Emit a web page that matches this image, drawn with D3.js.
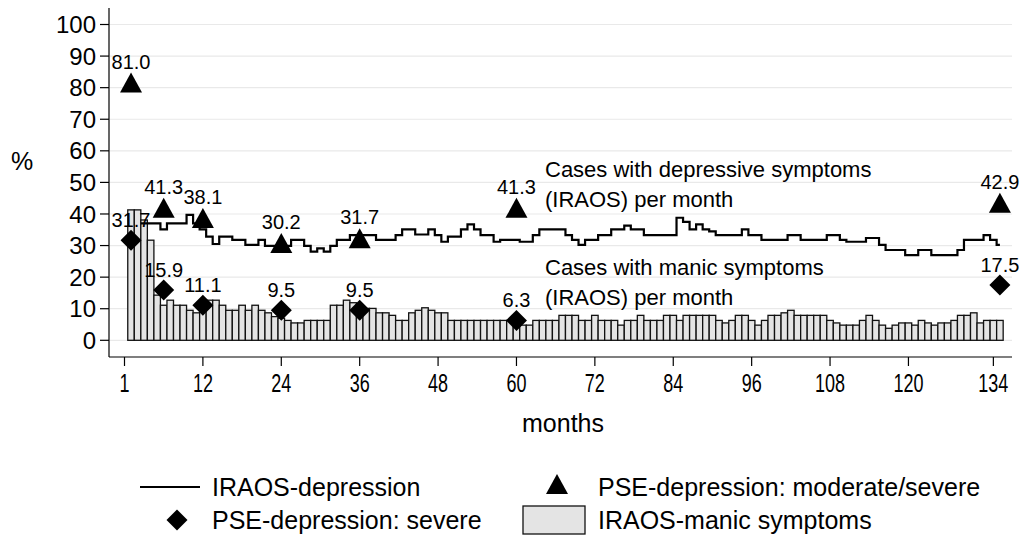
<!DOCTYPE html>
<html><head><meta charset="utf-8">
<script src="https://cdn.jsdelivr.net/npm/d3@7"></script>
<style>
body{margin:0;background:#fff}
svg{display:block}
text{font-family:"Liberation Sans",Arial,Helvetica,sans-serif;fill:#000}
</style>
</head><body>
<svg id="c" width="1022" height="535"></svg>
<script>
// ---------------- data ----------------
const months = d3.range(1, 135);
const manicPct = [
  41.3, 41.3, 38.1, 31.7, 14.3, 11.1, 12.7, 11.1, 11.1, 9.5,
  8.7, 9.5, 12.7, 12.7, 11.1, 9.5, 9.5, 11.1, 9.5, 11.1,
  9.5, 8.7, 7.5, 7.0, 6.3, 5.5, 5.5, 6.3, 6.3, 6.3,
  6.3, 11.1, 11.1, 12.7, 11.9, 11.1, 10.1, 10.1, 8.7, 8.7,
  7.9, 6.3, 6.3, 8.7, 9.5, 10.3, 9.5, 8.7, 8.7, 6.3,
  6.3, 6.3, 6.3, 6.3, 6.3, 6.3, 6.3, 6.3, 6.3, 4.8,
  4.8, 4.8, 6.3, 6.3, 6.3, 6.3, 7.9, 7.9, 7.9, 6.3,
  6.3, 7.9, 6.3, 6.3, 6.3, 4.8, 6.3, 6.3, 7.9, 6.3,
  6.3, 6.3, 7.9, 7.9, 6.3, 7.9, 7.9, 7.9, 7.9, 7.9,
  6.3, 5.5, 6.3, 7.9, 7.9, 6.3, 4.8, 6.3, 7.9, 7.9,
  8.7, 9.5, 7.9, 7.9, 7.9, 7.9, 7.9, 6.3, 5.5, 4.8,
  4.8, 4.8, 6.3, 7.9, 6.3, 4.8, 3.8, 4.8, 5.5, 5.5,
  4.8, 6.3, 5.5, 4.8, 5.5, 5.5, 6.3, 7.9, 7.9, 8.7,
  5.5, 6.3, 6.3, 6.3
];
const depressionPct = [
  null, null, 37.0, 37.0, 37.0, 35.1, 37.0, 37.0, 37.0, 39.7,
  37.0, 35.1, 32.8, 30.5, 32.8, 32.8, 31.8, 31.8, 30.2, 30.2,
  31.8, 29.9, 29.9, 29.9, 29.9, 31.8, 31.8, 29.9, 28.1, 29.1,
  28.1, 29.9, 31.8, 31.8, 33.3, 33.3, 33.3, 33.3, 31.8, 31.8,
  31.8, 33.3, 35.1, 35.1, 33.5, 33.5, 35.1, 33.3, 31.2, 32.8,
  32.8, 35.1, 36.7, 35.1, 33.3, 33.3, 31.2, 31.8, 31.8, 31.8,
  31.2, 31.2, 33.3, 35.1, 35.1, 35.1, 35.1, 33.3, 31.8, 30.2,
  31.8, 31.8, 33.3, 33.3, 35.1, 35.1, 36.3, 35.1, 35.1, 33.3,
  33.3, 33.3, 33.3, 33.3, 38.8, 37.5, 35.1, 36.7, 35.1, 34.5,
  33.3, 33.3, 33.3, 33.3, 35.1, 33.3, 33.3, 31.8, 31.8, 31.8,
  31.8, 33.3, 33.3, 31.8, 31.8, 31.8, 31.8, 33.3, 33.3, 31.8,
  31.2, 31.2, 31.2, 32.4, 32.4, 30.2, 28.6, 28.6, 28.6, 27.0,
  27.0, 28.6, 28.6, 27.0, 27.0, 27.0, 27.0, 28.6, 31.8, 31.8,
  31.8, 33.3, 31.8, 30.2
];
const pseMonths = [1, 6, 12, 24, 36, 60, 134];
const pseModSevere = [81.0, 41.3, 38.1, 30.2, 31.7, 41.3, 42.9];
const pseSevere = [31.7, 15.9, 11.1, 9.5, 9.5, 6.3, 17.5];
const xTickPos = [0, 12, 24, 36, 48, 60, 72, 84, 96, 108, 120, 133];
const xTickLabels = ["1", "12", "24", "36", "48", "60", "72", "84", "96", "108", "120", "134"];
const yTicks = d3.range(0, 101, 10);
const annotations = [
  {text: "Cases with depressive symptoms", at: 54.0},
  {text: "(IRAOS) per month", at: 44.5},
  {text: "Cases with manic symptoms", at: 23.0},
  {text: "(IRAOS) per month", at: 13.5}
];
const legendLabels = ["IRAOS-depression", "PSE-depression: moderate/severe", "PSE-depression: severe", "IRAOS-manic symptoms"];

// ---------------- chart ----------------
const svg = d3.select("#c");
const x = d3.scaleLinear().domain([0, 134]).range([124.5, 999.9]);
const y = d3.scaleLinear().domain([0, 100]).range([340.3, 24.5]);
const bw = x(1) - x(0);
const axisX = 109, axisY = 357, plotRight = 1012;

// gridlines
svg.append("g").selectAll("line").data(yTicks).join("line")
  .attr("x1", axisX + 1).attr("x2", plotRight)
  .attr("y1", d => y(d)).attr("y2", d => y(d))
  .attr("stroke", "#e9e9e9").attr("stroke-width", 1.2);

// bars
svg.append("g").selectAll("rect").data(months).join("rect")
  .attr("x", (m) => x(m - 0.5))
  .attr("width", bw)
  .attr("y", (m, i) => y(manicPct[i]))
  .attr("height", (m, i) => y(0) - y(manicPct[i]))
  .attr("fill", "#e4e4e4").attr("stroke", "#111").attr("stroke-width", 1.3);

// stair-step line
const linePts = [];
months.forEach((m, i) => { if (depressionPct[i] != null) linePts.push([m - 0.5, depressionPct[i]]); });
const last = linePts[linePts.length - 1];
linePts.push([last[0] + 0.5, last[1]]);
svg.append("path")
  .attr("d", d3.line().x(d => x(d[0])).y(d => y(d[1])).curve(d3.curveStepAfter)(linePts))
  .attr("fill", "none").attr("stroke", "#000").attr("stroke-width", 2.2);

// markers
const triPath = (cx, cy, w, h) => `M${cx - w / 2},${cy + h / 2}L${cx + w / 2},${cy + h / 2}L${cx},${cy - h / 2}Z`;
const diaPath = (cx, cy, r) => `M${cx},${cy - r}L${cx + r},${cy}L${cx},${cy + r}L${cx - r},${cy}Z`;
const fmt = d3.format(".1f");

svg.append("g").selectAll("path").data(pseMonths).join("path")
  .attr("d", (m, i) => triPath(x(m), y(pseModSevere[i]) - 2, 22, 20)).attr("fill", "#000");
svg.append("g").selectAll("path").data(pseMonths).join("path")
  .attr("d", (m, i) => diaPath(x(m), y(pseSevere[i]), 10.5)).attr("fill", "#000");

const lab = svg.append("g").attr("font-size", 20).attr("text-anchor", "middle");
lab.selectAll("text.a").data(pseMonths).join("text").attr("class", "a")
  .attr("x", m => x(m)).attr("y", (m, i) => y(pseModSevere[i]) - 16)
  .text((m, i) => fmt(pseModSevere[i]));
lab.selectAll("text.b").data(pseMonths).join("text").attr("class", "b")
  .attr("x", m => x(m)).attr("y", (m, i) => y(pseSevere[i]) - 13)
  .text((m, i) => fmt(pseSevere[i]));

// annotations
svg.append("g").attr("font-size", 22).selectAll("text").data(annotations).join("text")
  .attr("x", 545).attr("y", d => y(d.at)).attr("dy", "0.35em").text(d => d.text);

// y axis
svg.append("line").attr("x1", axisX).attr("x2", axisX).attr("y1", 8).attr("y2", axisY)
  .attr("stroke", "#000").attr("stroke-width", 1.2);
const ya = svg.append("g");
ya.selectAll("line").data(yTicks).join("line")
  .attr("x1", axisX - 9).attr("x2", axisX).attr("y1", d => y(d)).attr("y2", d => y(d))
  .attr("stroke", "#000").attr("stroke-width", 1.2);
ya.selectAll("text").data(yTicks).join("text")
  .attr("x", axisX - 13).attr("y", d => y(d)).attr("dy", "0.36em")
  .attr("text-anchor", "end").attr("font-size", 24).text(d => d);
svg.append("text").attr("x", 22).attr("y", 161).attr("dy", "0.36em").attr("text-anchor", "middle")
  .attr("font-size", 25).text("%");

// x axis
svg.append("line").attr("x1", axisX).attr("x2", plotRight).attr("y1", axisY).attr("y2", axisY)
  .attr("stroke", "#000").attr("stroke-width", 1.2);
const xa = svg.append("g").selectAll("g").data(xTickPos).join("g")
  .attr("transform", d => `translate(${x(d)},${axisY})`);
xa.append("line").attr("y1", 0).attr("y2", 9).attr("stroke", "#000").attr("stroke-width", 1.2);
xa.append("text").attr("y", 35).attr("text-anchor", "middle").attr("font-size", 25)
  .attr("transform", "scale(0.72,1)").text((d, i) => xTickLabels[i]);
svg.append("text").attr("x", 563).attr("y", 432).attr("text-anchor", "middle")
  .attr("font-size", 25).text("months");

// legend
const lg = svg.append("g").attr("font-size", 25);
lg.append("line").attr("x1", 140).attr("x2", 200).attr("y1", 487).attr("y2", 487)
  .attr("stroke", "#000").attr("stroke-width", 2.2);
lg.append("text").attr("x", 212).attr("y", 496).text(legendLabels[0]);
lg.append("path").attr("d", triPath(557, 484, 22, 20)).attr("fill", "#000");
lg.append("text").attr("x", 598).attr("y", 496).text(legendLabels[1]);
lg.append("path").attr("d", diaPath(177, 520, 10.5)).attr("fill", "#000");
lg.append("text").attr("x", 212).attr("y", 529).text(legendLabels[2]);
lg.append("rect").attr("x", 523).attr("y", 506).attr("width", 62).attr("height", 28)
  .attr("fill", "#e4e4e4").attr("stroke", "#111").attr("stroke-width", 1.3);
lg.append("text").attr("x", 598).attr("y", 529).text(legendLabels[3]);
</script>
</body></html>
